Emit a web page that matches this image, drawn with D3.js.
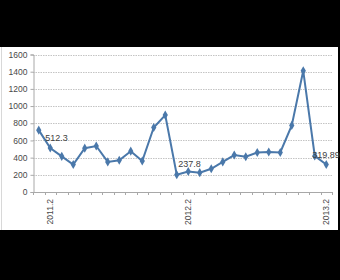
<!DOCTYPE html>
<html>
<head>
<meta charset="utf-8">
<script src="https://cdn.jsdelivr.net/npm/d3@7"></script>
<style>
  body { margin: 0; background: #000; }
  svg { display: block; }
</style>
</head>
<body>
<svg id="chart" width="340" height="280"></svg>
<script>
// months 2011.1 .. 2013.2
const months = ["2011.1","2011.2","2011.3","2011.4","2011.5","2011.6","2011.7","2011.8","2011.9","2011.10","2011.11","2011.12",
                "2012.1","2012.2","2012.3","2012.4","2012.5","2012.6","2012.7","2012.8","2012.9","2012.10","2012.11","2012.12",
                "2013.1","2013.2"];
const values = [720, 512.3, 415, 320, 510, 535, 350, 370, 475, 360, 750, 895,
                200, 237.8, 225, 270, 350, 430, 410, 460, 465, 460, 775, 1410,
                420, 319.89];
const shownTicks = ["2011.2", "2012.2", "2013.2"];
const yTicks = [0, 200, 400, 600, 800, 1000, 1200, 1400, 1600];
const labelMonths = ["2011.2", "2012.2", "2013.2"];
const labelTexts = ["512.3", "237.8", "319.89"];

const svg = d3.select("#chart");
const W = 340, H = 280;
const mLeft = 33, mRight = 332, mTop = 54.5, mBottom = 192;

svg.append("rect").attr("width", W).attr("height", H).attr("fill", "#000");
svg.append("rect").attr("x", 0).attr("y", 47).attr("width", 338).attr("height", 183).attr("fill", "#fff");
svg.append("line").attr("x1", 1.5).attr("x2", 1.5).attr("y1", 47).attr("y2", 230)
    .attr("stroke", "#d8d8d8").attr("stroke-width", 1);

let x = d3.scaleBand().domain(months).range([mLeft, mRight]).paddingInner(0).paddingOuter(0);
let y = d3.scaleLinear().domain([0, 1600]).range([mBottom, mTop]);

// gridlines
svg.append("g").selectAll("line").data(yTicks.filter(d => d > 0)).join("line")
    .attr("x1", mLeft).attr("x2", mRight)
    .attr("y1", d => Math.round(y(d)) + 0.5).attr("y2", d => Math.round(y(d)) + 0.5)
    .attr("stroke", "#c4c4c4").attr("stroke-dasharray", "1.5,1");

// y axis
let yAxis = svg.append("g").attr("transform", `translate(${mLeft + 0.5},0)`)
    .call(d3.axisLeft(y).tickValues(yTicks).tickSize(3).tickFormat(d3.format("d")));
yAxis.select(".domain").attr("stroke", "#a8a8a8");
yAxis.selectAll(".tick line").attr("stroke", "#a8a8a8");
yAxis.selectAll("text").attr("fill", "#484848").attr("font-family", "Liberation Sans, Arial, sans-serif")
    .attr("font-size", 8.5).attr("x", -6);

// x axis line and ticks at category boundaries
svg.append("line").attr("x1", mLeft).attr("x2", mRight)
    .attr("y1", Math.round(mBottom) + 0.5).attr("y2", Math.round(mBottom) + 0.5).attr("stroke", "#a8a8a8");
let bounds = months.map(m => x(m)).concat([x.range()[1]]);
svg.append("g").selectAll("line").data(bounds).join("line")
    .attr("x1", d => Math.round(d) + 0.5).attr("x2", d => Math.round(d) + 0.5)
    .attr("y1", mBottom).attr("y2", mBottom + 3).attr("stroke", "#a8a8a8");

svg.append("g").selectAll("text").data(shownTicks).join("text")
    .attr("transform", d => `translate(${x(d) + x.bandwidth() / 2 + 3},199) rotate(-90)`)
    .attr("text-anchor", "end")
    .attr("font-family", "Liberation Sans, Arial, sans-serif").attr("font-size", 8.5)
    .attr("fill", "#484848")
    .text(d => d);

// series
const pts = months.map((m, i) => ({m: m, v: values[i]}));
const lineColor = "#4a78aa";
svg.append("path").datum(pts)
    .attr("fill", "none").attr("stroke", lineColor).attr("stroke-width", 2)
    .attr("d", d3.line().x(d => x(d.m) + x.bandwidth() / 2).y(d => y(d.v)));

svg.append("g").selectAll("path").data(pts).join("path")
    .attr("transform", d => `translate(${x(d.m) + x.bandwidth() / 2},${y(d.v)})`)
    .attr("d", d3.symbol(d3.symbolDiamond, 24))
    .attr("fill", lineColor);

// data labels
svg.append("g").selectAll("text").data(labelMonths).join("text")
    .attr("x", (d, i) => x(d) + x.bandwidth() / 2 - [5, 10, 14][i])
    .attr("y", (d, i) => y(values[months.indexOf(d)]) - [7, 5, 7][i])
    .attr("font-family", "Liberation Sans, Arial, sans-serif").attr("font-size", 9)
    .attr("fill", "#404040")
    .text((d, i) => labelTexts[i]);
</script>
</body>
</html>
